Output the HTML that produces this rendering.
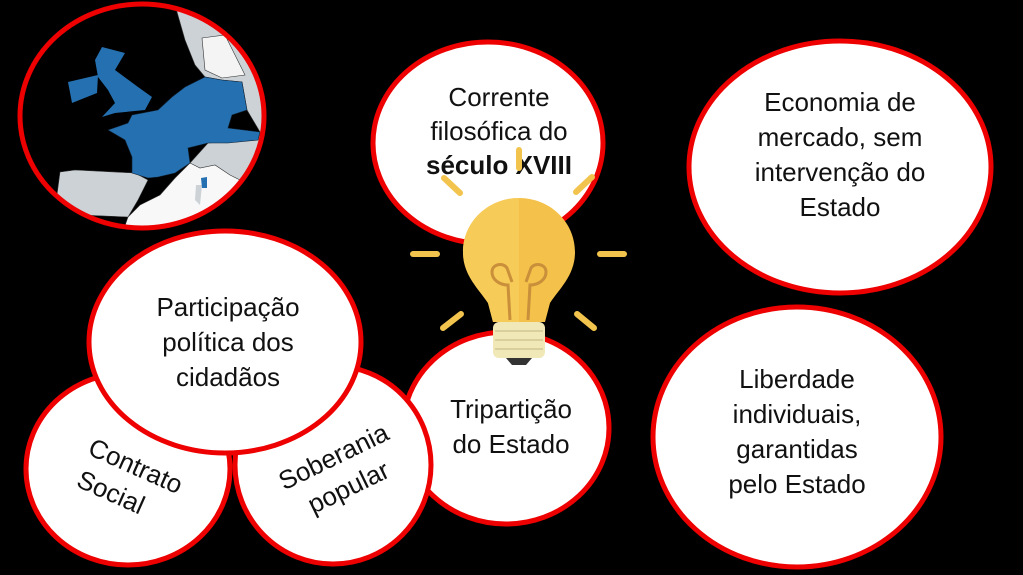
<!DOCTYPE html>
<html><head><meta charset="utf-8"><style>
html,body{margin:0;padding:0;background:#000;}
svg{display:block;}
text{font-family:"Liberation Sans","DejaVu Sans",sans-serif;font-size:26px;fill:#111;text-anchor:middle;}
</style></head><body>
<svg width="1023" height="575" viewBox="0 0 1023 575" xmlns="http://www.w3.org/2000/svg">
<rect width="1023" height="575" fill="#000"/>
<defs>
<clipPath id="mc"><ellipse cx="142" cy="116" rx="122" ry="112"/></clipPath>
</defs>
<g clip-path="url(#mc)">
<rect x="0" y="0" width="280" height="240" fill="#000"/>
<!-- grey north/east -->
<path d="M175 5 L280 5 L280 240 L175 240 L190 163 L208 143 L258 140 L260 132 L247 110 L242 82 L222 80 L205 77 L195 65 L185 40 Z" fill="#ccd2d6" stroke="#333" stroke-width="0.6"/>
<path d="M202 38 L225 35 L235 55 L245 75 L222 78 L205 70 Z" fill="#f4f4f4" stroke="#333" stroke-width="0.6"/>
<!-- white med / italy region -->
<path d="M190 163 L200 168 L215 165 L230 175 L260 190 L280 200 L280 240 L120 240 L128 217 L140 205 L160 195 L175 178 Z" fill="#f8f8f8" stroke="#333" stroke-width="0.6"/>
<path d="M196 185 L202 185 L200 205 L195 200 Z" fill="#ccd2d6"/>
<!-- Spain -->
<path d="M60 172 L75 170 L135 173 L148 180 L138 200 L128 217 L82 215 L55 210 Z" fill="#ccd2d6" stroke="#333" stroke-width="0.6"/>
<!-- UK -->
<path d="M102 47 L125 53 L115 70 L138 87 L152 97 L145 110 L115 113 L102 117 L115 103 L108 90 L98 77 L95 60 Z" fill="#2470b0"/>
<!-- Ireland -->
<path d="M68 82 L98 75 L97 93 L72 103 Z" fill="#2470b0"/>
<!-- France/Germany -->
<path d="M108 130 L128 123 L132 115 L158 110 L172 97 L185 87 L205 77 L222 80 L242 82 L247 110 L232 115 L228 128 L260 132 L258 140 L228 143 L208 143 L188 148 L190 163 L175 173 L158 177 L148 178 L132 173 L132 157 L125 140 Z" fill="#2470b0" stroke="#123" stroke-width="0.6"/>
<path d="M201 178 L207 177 L207 188 L202 188 Z" fill="#2470b0"/>
</g>
<ellipse cx="142" cy="116" rx="122" ry="112" fill="none" stroke="#e00" stroke-width="5"/>

<g fill="#fff" stroke="#e00" stroke-width="5">
<ellipse cx="488" cy="143" rx="115" ry="101"/>
<ellipse cx="840" cy="167" rx="151" ry="126"/>
<ellipse cx="797" cy="437" rx="144" ry="130"/>
<ellipse cx="506" cy="428" rx="103" ry="96"/>
<ellipse cx="128" cy="469" rx="102" ry="96"/>
<ellipse cx="333" cy="465" rx="98" ry="99"/>
<ellipse cx="225" cy="342" rx="136" ry="111"/>
</g>

<text x="499" y="106">Corrente</text>
<text x="499" y="140">filosófica do</text>
<text x="499" y="174" font-weight="bold">século XVIII</text>

<text x="840" y="111">Economia de</text>
<text x="840" y="146">mercado, sem</text>
<text x="840" y="181">intervenção do</text>
<text x="840" y="216">Estado</text>

<text x="797" y="388">Liberdade</text>
<text x="797" y="423">individuais,</text>
<text x="797" y="458">garantidas</text>
<text x="797" y="493">pelo Estado</text>

<text x="511" y="418">Tripartição</text>
<text x="511" y="453">do Estado</text>

<text x="228" y="316">Participação</text>
<text x="228" y="351">política dos</text>
<text x="228" y="386">cidadãos</text>

<g transform="translate(126,478) rotate(24)">
<text x="4" y="-6">Contrato</text>
<text x="-8" y="28">Social</text>
</g>
<g transform="translate(340,470) rotate(-26)">
<text x="0" y="-6">Soberania</text>
<text x="0" y="28">popular</text>
</g>

<g stroke="#f2c44e" stroke-width="6" stroke-linecap="round">
<line x1="519" y1="150" x2="519" y2="168"/>
<line x1="444" y1="178" x2="460" y2="193"/>
<line x1="592" y1="177" x2="576" y2="192"/>
<line x1="413" y1="254" x2="437" y2="254"/>
<line x1="600" y1="254" x2="624" y2="254"/>
<line x1="443" y1="328" x2="461" y2="314"/>
<line x1="594" y1="328" x2="577" y2="314"/>
</g>
<path d="M519 198 C488 198 463 222 463 252 C463 275 478 288 488 303 L493 322 L545 322 L550 303 C560 288 575 275 575 252 C575 222 550 198 519 198 Z" fill="#f4c24a"/>
<path d="M519 198 C488 198 463 222 463 252 C463 275 478 288 488 303 L493 322 L519 322 Z" fill="#f7cb58"/>
<g fill="none" stroke="#c98f3a" stroke-width="3">
<path d="M510 320 L508 285 C500 285 492 280 492 272 C492 264 503 262 507 268 L512 282"/>
<path d="M528 320 L530 285 C538 285 546 280 546 272 C546 264 535 262 531 268 L526 282"/>
</g>
<rect x="493" y="322" width="52" height="36" rx="6" fill="#f1e8b8"/>
<g stroke="#d9cf9c" stroke-width="2"><line x1="495" y1="331" x2="543" y2="331"/><line x1="495" y1="340" x2="543" y2="340"/><line x1="495" y1="349" x2="543" y2="349"/></g>
<path d="M506 358 L532 358 L526 365 L512 365 Z" fill="#333"/>
</svg>
</body></html>
